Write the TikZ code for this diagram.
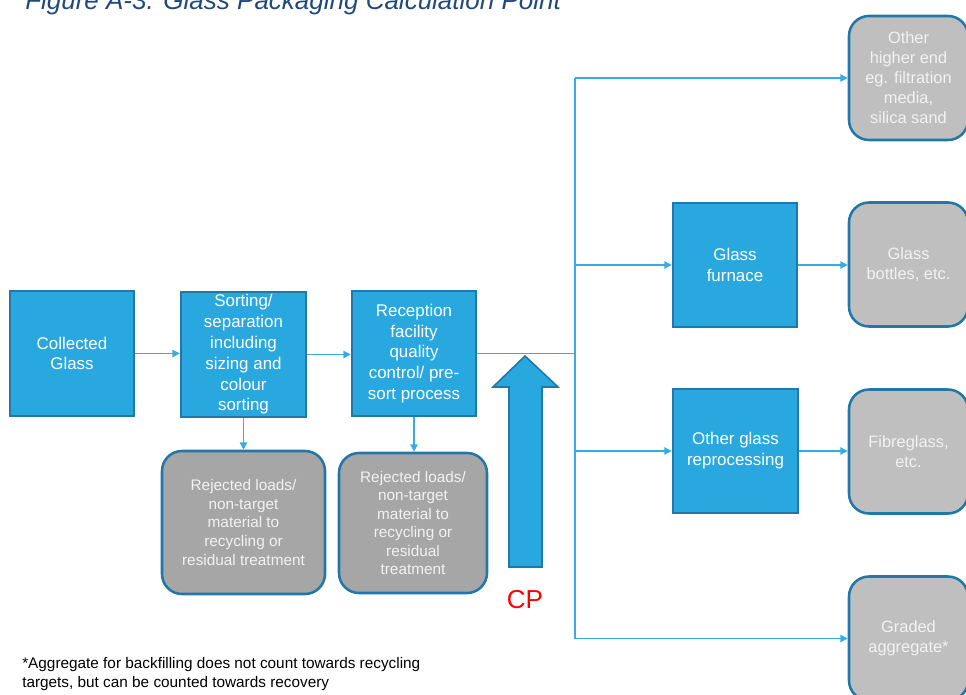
\documentclass[tikz,border=0pt]{standalone}
\usepackage{fontspec}
\setmainfont{Liberation Sans}
\usetikzlibrary{arrows.meta,calc}
\definecolor{boxblue}{HTML}{29A8E0}
\definecolor{edgeblue}{HTML}{2178A8}
\definecolor{linkblue}{HTML}{38ACE2}
\definecolor{greyA}{HTML}{A6A6A6}
\definecolor{greyB}{HTML}{BFBFBF}
\definecolor{paletext}{HTML}{F2F2F2}
\definecolor{titleblue}{HTML}{1F497D}
\tikzset{
  bluebox/.style={draw=edgeblue, line width=1.9pt, fill=boxblue, text=white, align=center,
    font=\fontsize{12.7}{15.6}\selectfont, inner sep=0pt},
  rejbox/.style={draw=edgeblue, line width=1.9pt, fill=greyA, text=paletext, align=center,
    rounded corners=15pt, font=\fontsize{11.5}{13.9}\selectfont, inner sep=0pt},
  outbox/.style={draw=edgeblue, line width=1.9pt, fill=greyB, text=paletext, align=center,
    rounded corners=15pt, font=\fontsize{12.3}{15}\selectfont, inner sep=0pt,
    minimum width=89.25pt, minimum height=93pt},
  link/.style={draw=linkblue, line width=1pt},
  linkarrow/.style={link, -{Triangle[length=5.5pt,width=5.5pt]}},
  cparrow/.style={draw=edgeblue, line width=1.2pt, fill=boxblue, line join=miter}
}
\begin{document}
\begin{tikzpicture}[x=0.75pt,y=-0.75pt]
\useasboundingbox (0,0) rectangle (966,695);
% title
\node[anchor=base west, inner sep=0pt, text=titleblue, font=\fontsize{19.5}{22}\selectfont\itshape] (title) at (25,10) {Figure A-3. Glass Packaging Calculation Point};
% main chain
\node[bluebox, minimum width=93pt, minimum height=93.75pt] (coll) at (72,353.5) {Collected\\Glass};
\node[bluebox, minimum width=93.75pt, minimum height=93.75pt] (sort) at (243.5,354.5) {Sorting/\\separation\\including\\sizing and\\colour\\sorting};
\node[bluebox, minimum width=93pt, minimum height=93.75pt] (rec) at (414,353.5) {Reception\\facility\\quality\\control/ pre-\\sort process};
% rejected
\node[rejbox, minimum width=122.25pt, minimum height=107.25pt] (rej1) at (243.5,522.5) {Rejected loads/\\non-target\\material to\\recycling or\\residual treatment};
\node[rejbox, minimum width=111pt, minimum height=105pt] (rej2) at (413,523) {Rejected loads/\\non-target\\material to\\recycling or\\residual\\treatment};
% processing
\node[bluebox, minimum width=93pt, minimum height=93pt] (furn) at (735,265) {Glass\\furnace};
\node[bluebox, minimum width=93.75pt, minimum height=93pt] (repro) at (735.5,451) {Other glass\\reprocessing};
% outputs
\node[outbox] (other) at (908.5,78) {Other\\higher end\\eg. filtration\\media,\\silica sand};
\node[outbox] (bott) at (908.5,264.5) {Glass\\bottles, etc.};
\node[outbox] (fibre) at (908.5,451.5) {Fibreglass,\\etc.};
\node[outbox] (grad) at (908.5,638.5) {Graded\\aggregate*};
% junction coordinates
\coordinate (jt) at (575,78);
\coordinate (jb) at (575,638.5);
% connectors
\draw[linkarrow] (coll.east) -- (coll.east -| sort.west);
\draw[linkarrow] (sort.east) -- (sort.east -| rec.west);
\draw[linkarrow] (sort.south) -- (sort.south |- rej1.north);
\draw[linkarrow] (rec.south) -- (rec.south |- rej2.north);
\draw[link] (rec.east) -- (rec.east -| jt);
\draw[link] (jt) -- (jb);
\draw[linkarrow] (jt) -- (other.west);
\draw[linkarrow] (furn.west -| jt) -- (furn.west);
\draw[linkarrow] (repro.west -| jt) -- (repro.west);
\draw[linkarrow] (jb) -- (grad.west);
\draw[linkarrow] (furn.east) -- (furn.east -| bott.west);
\draw[linkarrow] (repro.east) -- (repro.east -| fibre.west);
% calculation point arrow
\draw[cparrow] (509,567) -- (509,387) -- (493,387) -- (525,356) -- (558,387) -- (542,387) -- (542,567) -- cycle;
\node[text=red, font=\fontsize{19.5}{22}\selectfont, inner sep=0pt] (cp) at (525,600) {CP};
% footnote
\node[anchor=west, align=left, inner sep=0pt, font=\fontsize{11.5}{14.25}\selectfont] (note) at (22,674.5) {*Aggregate for backfilling does not count towards recycling\\targets, but can be counted towards recovery};
\end{tikzpicture}
\end{document}
